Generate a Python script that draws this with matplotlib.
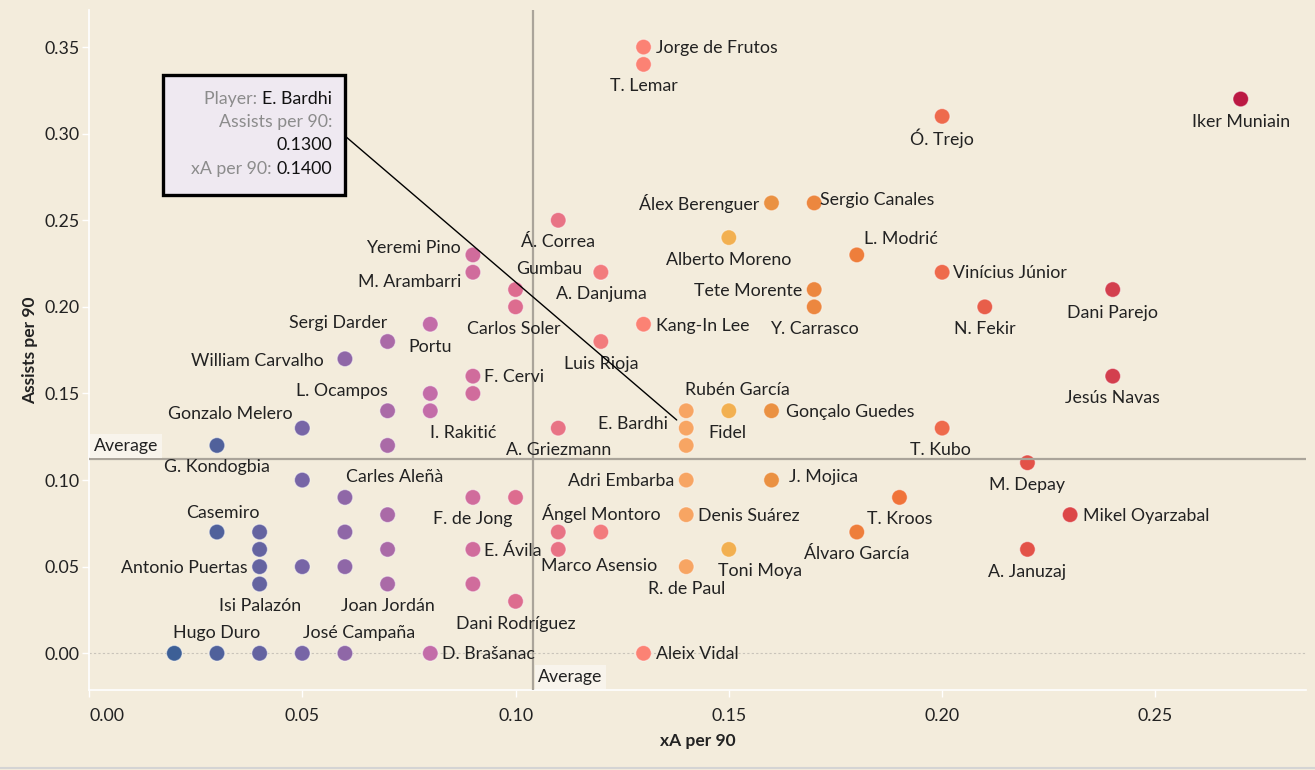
import matplotlib
matplotlib.use("Agg")
import matplotlib.pyplot as plt
from matplotlib.colors import LinearSegmentedColormap
from matplotlib.patches import Rectangle
from matplotlib.lines import Line2D

# ── Data ──────────────────────────────────────────────────────────────
players = [
    "Jorge de Frutos", "T. Lemar", "Iker Muniain", "Ó. Trejo", "Álex Berenguer",
    "Sergio Canales", "Á. Correa", "Alberto Moreno", "L. Modrić", "Yeremi Pino",
    "M. Arambarri", "Gumbau", "A. Danjuma", "Vinícius Júnior", "",
    "Tete Morente", "Dani Parejo", "Carlos Soler", "Y. Carrasco", "N. Fekir",
    "Portu", "Kang-In Lee", "Sergi Darder", "Luis Rioja", "William Carvalho",
    "F. Cervi", "Jesús Navas", "", "", "L. Ocampos",
    "I. Rakitić", "", "Rubén García", "Gonçalo Guedes", "Gonzalo Melero",
    "A. Griezmann", "E. Bardhi", "T. Kubo", "G. Kondogbia", "",
    "Fidel", "M. Depay", "", "Adri Embarba", "J. Mojica",
    "Carles Aleñà", "F. de Jong", "", "T. Kroos", "",
    "Denis Suárez", "Mikel Oyarzabal", "Casemiro", "", "",
    "", "Ángel Montoro", "Álvaro García", "", "",
    "E. Ávila", "Marco Asensio", "Toni Moya", "A. Januzaj", "Antonio Puertas",
    "", "", "R. de Paul", "Isi Palazón", "Joan Jordán",
    "", "Dani Rodríguez", "", "Hugo Duro", "",
    "", "José Campaña", "D. Brašanac", "Aleix Vidal",
]
xa_per90 = [
    0.13, 0.13, 0.27, 0.20, 0.16,
    0.17, 0.11, 0.15, 0.18, 0.09,
    0.09, 0.12, 0.12, 0.20, 0.10,
    0.17, 0.24, 0.10, 0.17, 0.21,
    0.08, 0.13, 0.07, 0.12, 0.06,
    0.09, 0.24, 0.08, 0.09, 0.07,
    0.08, 0.14, 0.15, 0.16, 0.05,
    0.11, 0.14, 0.20, 0.03, 0.07,
    0.14, 0.22, 0.05, 0.14, 0.16,
    0.06, 0.09, 0.10, 0.19, 0.07,
    0.14, 0.23, 0.03, 0.04, 0.06,
    0.11, 0.12, 0.18, 0.04, 0.07,
    0.09, 0.11, 0.15, 0.22, 0.04,
    0.05, 0.06, 0.14, 0.04, 0.07,
    0.09, 0.10, 0.02, 0.03, 0.04,
    0.05, 0.06, 0.08, 0.13,
]
assists_per90 = [
    0.35, 0.34, 0.32, 0.31, 0.26,
    0.26, 0.25, 0.24, 0.23, 0.23,
    0.22, 0.22, 0.22, 0.22, 0.21,
    0.21, 0.21, 0.20, 0.20, 0.20,
    0.19, 0.19, 0.18, 0.18, 0.17,
    0.16, 0.16, 0.15, 0.15, 0.14,
    0.14, 0.14, 0.14, 0.14, 0.13,
    0.13, 0.13, 0.13, 0.12, 0.12,
    0.12, 0.11, 0.10, 0.10, 0.10,
    0.09, 0.09, 0.09, 0.09, 0.08,
    0.08, 0.08, 0.07, 0.07, 0.07,
    0.07, 0.07, 0.07, 0.06, 0.06,
    0.06, 0.06, 0.06, 0.06, 0.05,
    0.05, 0.05, 0.05, 0.04, 0.04,
    0.04, 0.03, 0.00, 0.00, 0.00,
    0.00, 0.00, 0.00, 0.00,
]
avg_xa = 0.1041
avg_assists = 0.1122

x_ticks = [0.00, 0.05, 0.10, 0.15, 0.20, 0.25]
y_ticks = [0.00, 0.05, 0.10, 0.15, 0.20, 0.25, 0.30, 0.35]

tooltip_rows = [("Player: ", "E. Bardhi"), ("Assists per 90:", ""),
                ("", "0.1300"), ("xA per 90: ", "0.1400")]
tooltip_player = "E. Bardhi"

# ── Style ─────────────────────────────────────────────────────────────
BG = "#f3ecdc"
TEXT = "#222222"
FS = 12.8
plt.rcParams["font.family"] = ["Lato", "DejaVu Sans"]

palette = [
    (0.02, "#3d5f96"), (0.05, "#7865a6"), (0.08, "#c36ca8"), (0.10, "#de6c8e"),
    (0.13, "#fc8274"), (0.14, "#f7a662"), (0.15, "#f2b152"), (0.16, "#ea9142"),
    (0.19, "#f07438"), (0.20, "#ee6a4c"), (0.23, "#dd4646"), (0.24, "#d3404e"),
    (0.27, "#bb1943"),
]
lo, hi = palette[0][0], palette[-1][0]
cmap = LinearSegmentedColormap.from_list(
    "xa", [((v - lo) / (hi - lo), c) for v, c in palette])

# label placement: dx, dy (pixels, y up), horizontal alignment
label_pos = {
    "Jorge de Frutos": (12, -1, "left"), "T. Lemar": (0, -22, "center"),
    "Ó. Trejo": (0, -22, "center"), "Iker Muniain": (0, -23, "center"),
    "Álex Berenguer": (-12, -1, "right"), "Sergio Canales": (6, 3, "left"),
    "Á. Correa": (0, -22, "center"), "Alberto Moreno": (0, -22, "center"),
    "L. Modrić": (7, 16, "left"), "Yeremi Pino": (-12, 7, "right"),
    "M. Arambarri": (-12, -10, "right"), "Gumbau": (-19, 3, "right"),
    "A. Danjuma": (0, -22, "center"), "Carlos Soler": (-2, -22, "center"),
    "Kang-In Lee": (12, -2, "left"), "Luis Rioja": (0, -22, "center"),
    "Tete Morente": (-12, -1, "right"), "Y. Carrasco": (0, -22, "center"),
    "Vinícius Júnior": (11, -1, "left"), "Dani Parejo": (0, -23, "center"),
    "N. Fekir": (0, -22, "center"), "Jesús Navas": (0, -22, "center"),
    "T. Kubo": (-2, -22, "center"), "M. Depay": (0, -22, "center"),
    "Mikel Oyarzabal": (13, -1, "left"), "A. Januzaj": (0, -23, "center"),
    "T. Kroos": (0, -22, "center"), "Álvaro García": (0, -22, "center"),
    "Toni Moya": (31, -22, "center"), "R. de Paul": (0, -22, "center"),
    "Denis Suárez": (12, -1, "left"), "Adri Embarba": (-12, -1, "right"),
    "J. Mojica": (17, 3, "left"), "Rubén García": (9, 21, "center"),
    "Gonçalo Guedes": (14, -1, "left"), "E. Bardhi": (-18, 4, "right"),
    "Fidel": (22, 12, "left"), "A. Griezmann": (0, -22, "center"),
    "Ángel Montoro": (0, 19, "center"), "Marco Asensio": (41, -17, "center"),
    "E. Ávila": (11, -2, "left"), "F. de Jong": (0, -22, "center"),
    "Dani Rodríguez": (0, -23, "center"), "D. Brašanac": (12, -1, "left"),
    "Aleix Vidal": (12, -1, "left"), "F. Cervi": (11, -1, "left"),
    "L. Ocampos": (0, 20, "right"), "I. Rakitić": (0, -22, "left"),
    "Sergi Darder": (0, 19, "right"), "Portu": (0, -23, "center"),
    "William Carvalho": (-21, -2, "right"), "Gonzalo Melero": (-10, 14, "right"),
    "G. Kondogbia": (0, -22, "center"), "Carles Aleñà": (1, 20, "left"),
    "Casemiro": (6, 19, "center"), "Antonio Puertas": (-12, -1, "right"),
    "Isi Palazón": (0, -22, "center"), "Joan Jordán": (0, -22, "center"),
    "Hugo Duro": (0, 20, "center"), "José Campaña": (14, 20, "center"),
}

# ── Figure ────────────────────────────────────────────────────────────
fig = plt.figure(figsize=(13.15, 7.7), dpi=100, facecolor=BG)
ax = fig.add_axes([89 / 1315, 80 / 770, 1217 / 1315, 680 / 770])
ax.set_facecolor(BG)
ax.set_xlim(0, 0.2853)
ax.set_ylim(-0.0212, 0.3714)

for side in ("top", "right"):
    ax.spines[side].set_visible(False)
for side in ("left", "bottom"):
    ax.spines[side].set_color("white")
    ax.spines[side].set_linewidth(1.2)

ax.set_xticks(x_ticks)
ax.set_yticks(y_ticks)
ax.set_xticklabels([f"{v:.2f}" for v in x_ticks])
ax.set_yticklabels([f"{v:.2f}" for v in y_ticks])
ax.tick_params(axis="both", colors="white", labelcolor=TEXT, labelsize=FS,
               length=5, width=1)
ax.tick_params(axis="y", pad=2)
ax.tick_params(axis="x", pad=8)
ax.get_xticklabels()[0].set_horizontalalignment("left")

ax.set_xlabel("xA per 90", fontsize=12.5, fontweight="bold", color=TEXT, va="center")
ax.set_ylabel("Assists per 90", fontsize=12.5, fontweight="bold", color=TEXT, va="center")
ax.xaxis.set_label_coords(0.5, -0.075)
ax.yaxis.set_label_coords(-0.0485, 0.5)

# zero line + average reference lines
ax.axhline(0, color="#c9c4ba", lw=0.8, ls=(0, (2, 2)), zorder=1)
ax.axvline(avg_xa, color="#aaa49a", lw=1.6, zorder=3)
ax.axhline(avg_assists, color="#aaa49a", lw=1.6, zorder=3)

avg_box = dict(boxstyle="square,pad=0.2", fc="#f8f4ec", ec="none")
ax.annotate("Average", xy=(0, avg_assists), xycoords=("axes fraction", "data"),
            xytext=(5, 13), textcoords="offset pixels", ha="left", va="center",
            fontsize=FS, color=TEXT, bbox=avg_box, zorder=4)
ax.annotate("Average", xy=(avg_xa, 0), xycoords=("data", "axes fraction"),
            xytext=(5, 13), textcoords="offset pixels", ha="left", va="center",
            fontsize=FS, color=TEXT, bbox=avg_box, zorder=4)

# ── Points ────────────────────────────────────────────────────────────
ax.scatter(xa_per90, assists_per90, c=xa_per90, cmap=cmap, vmin=lo, vmax=hi,
           s=125, edgecolors=(1, 1, 1, 0.45), linewidths=0.8, zorder=2)

for name, x, y in zip(players, xa_per90, assists_per90):
    if not name:
        continue
    dx, dy, ha = label_pos[name]
    ax.annotate(name, xy=(x, y), xytext=(dx, dy), textcoords="offset pixels",
                ha=ha, va="center", fontsize=FS, color=TEXT, zorder=4)

# ── Tooltip ───────────────────────────────────────────────────────────
i = players.index(tooltip_player)
ax.add_patch(Rectangle((0.0608, 0.7279), 0.1496, 0.1765, transform=ax.transAxes,
                       facecolor="#efe9f1", edgecolor="black", lw=2.4, zorder=6))
ax.annotate("", xy=(xa_per90[i], assists_per90[i]), xycoords="data",
            xytext=(0.2104, 0.8147), textcoords="axes fraction",
            arrowprops=dict(arrowstyle="-", color="black", lw=1,
                            shrinkA=0, shrinkB=9), zorder=5)

row_y = [0.869, 0.8353, 0.8015, 0.7662]
for (lab, val), ry in zip(tooltip_rows, row_y):
    if val:
        vt = ax.text(0.1997, ry, val, transform=ax.transAxes, ha="right",
                     va="center", fontsize=FS, color="#111111", zorder=7)
        if lab:
            ax.annotate(lab, xy=(0, 0), xycoords=vt, ha="right", va="bottom",
                        fontsize=FS, color="#8c8c8c", zorder=7)
    else:
        ax.text(0.1997, ry, lab, transform=ax.transAxes, ha="right",
                va="center", fontsize=FS, color="#8c8c8c", zorder=7)

# thin frame line at the bottom of the image
fig.add_artist(Line2D([0, 1], [2 / 770, 2 / 770], transform=fig.transFigure,
                      color="#d4d4d4", lw=1.5))

fig.savefig("out.png", dpi=100, facecolor=BG)
plt.close(fig)
